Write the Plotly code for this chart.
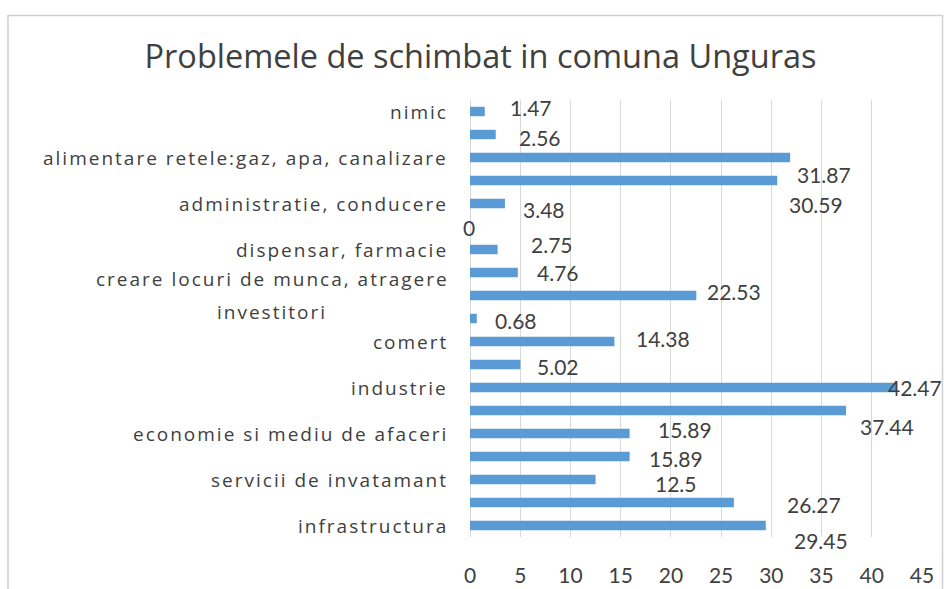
import plotly.graph_objects as go

# Rows listed from top to bottom as they appear in the chart
category_labels = [
    "nimic", "",
    "alimentare retele:gaz, apa, canalizare", "",
    "administratie, conducere", "",
    "dispensar, farmacie", "",
    "creare locuri de munca, atragere<br>investitori", "",
    "comert", "",
    "industrie", "",
    "economie si mediu de afaceri", "",
    "servicii de invatamant", "",
    "infrastructura",
]
values = [1.47, 2.56, 31.87, 30.59, 3.48, 0, 2.75, 4.76, 22.53, 0.68,
          14.38, 5.02, 42.47, 37.44, 15.89, 15.89, 12.5, 26.27, 29.45]
value_labels = ["1.47", "2.56", "31.87", "30.59", "3.48", "0", "2.75", "4.76", "22.53", "0.68",
                "14.38", "5.02", "42.47", "37.44", "15.89", "15.89", "12.5", "26.27", "29.45"]
x_ticks = [0, 5, 10, 15, 20, 25, 30, 35, 40, 45]
title_text = "Problemele de schimbat in comuna Unguras"

# label placement offsets (pixels) relative to bar end, as in the original
label_dx = [23, 21, 5, 10, 16, -9, 31, 17, 9, 16, 20, 15, -11, 12, 26, 17, 57, 51, 26]
label_dy = [4, -3, -17, -24, -6, -1, 5, 0, 4, -2, 3, -2, 0, -16, 4, -2, -4, -2, -15]

rows = list(range(len(values)))
FONT = "'Open Sans', Lato, sans-serif"
NUMFONT = "Lato, 'Open Sans', sans-serif"
TXT = "#404040"

W, H = 944, 589
L, R, T, B = 470, 922, 100, 537  # plot area edges in pixels

fig = go.Figure()
fig.add_trace(go.Bar(
    x=values, y=rows, orientation="h",
    marker=dict(color="#5B9BD5", line=dict(width=0)),
    width=0.41, hoverinfo="x",
))

for r, v, t, dx, dy in zip(rows, values, value_labels, label_dx, label_dy):
    fig.add_annotation(x=v, y=r, xref="x", yref="y", text=t, showarrow=False,
                       xanchor="left", yanchor="middle", xshift=dx, yshift=dy,
                       font=dict(family=NUMFONT, size=21, color=TXT))

# category labels (spaced lettering, multi-line label centered like the original)
for r, lab in zip(rows, category_labels):
    if not lab:
        continue
    parts = lab.split("<br>")
    n = len(parts)
    for k, part in enumerate(parts):
        txt = '<span style="letter-spacing:2px">%s</span>' % part
        if n == 1:
            fig.add_annotation(x=0, y=r, xref="paper", yref="y", text=txt, showarrow=False,
                               xanchor="right", yanchor="middle", xshift=-20,
                               font=dict(family=FONT, size=19, color=TXT))
        else:
            fig.add_annotation(x=0, y=r, xref="paper", yref="y", text=txt, showarrow=False,
                               xanchor="center", yanchor="middle", xshift=-198,
                               yshift=16.5 * (n - 1) - 33 * k,
                               font=dict(family=FONT, size=19, color=TXT))

fig.update_yaxes(
    range=[len(values) - 0.5, -0.5], showgrid=False, zeroline=False, showline=False,
    showticklabels=False, ticks="", automargin=False,
)
fig.update_xaxes(
    range=[0, 45], tickmode="array", tickvals=x_ticks,
    showgrid=True, gridcolor="#d9d9d9", gridwidth=1,
    zeroline=True, zerolinecolor="#d9d9d9", zerolinewidth=1,
    showline=False, ticks="", ticklabelstandoff=24, automargin=False,
    tickfont=dict(family=NUMFONT, size=21, color=TXT),
)

# outer chart border
pw, ph = R - L, B - T
fig.add_shape(type="rect", xref="paper", yref="paper",
              x0=(8 - L) / pw, x1=(942.5 - L) / pw,
              y0=(B - 640) / ph, y1=(B - 15.5) / ph,
              line=dict(color="#d0d0d0", width=1.5), layer="below")

fig.update_layout(
    width=W, height=H,
    margin=dict(l=L, r=W - R, t=T, b=H - B, autoexpand=False),
    paper_bgcolor="white", plot_bgcolor="white",
    showlegend=False,
    title=dict(text=title_text, x=480.5 / W, xanchor="center",
               y=1 - 57 / H, yanchor="middle", xref="container", yref="container",
               font=dict(family=FONT, size=32.5, color=TXT)),
)

fig.write_html("out.html", config={"displayModeBar": False},
               post_script="document.body.style.margin='0px';")
